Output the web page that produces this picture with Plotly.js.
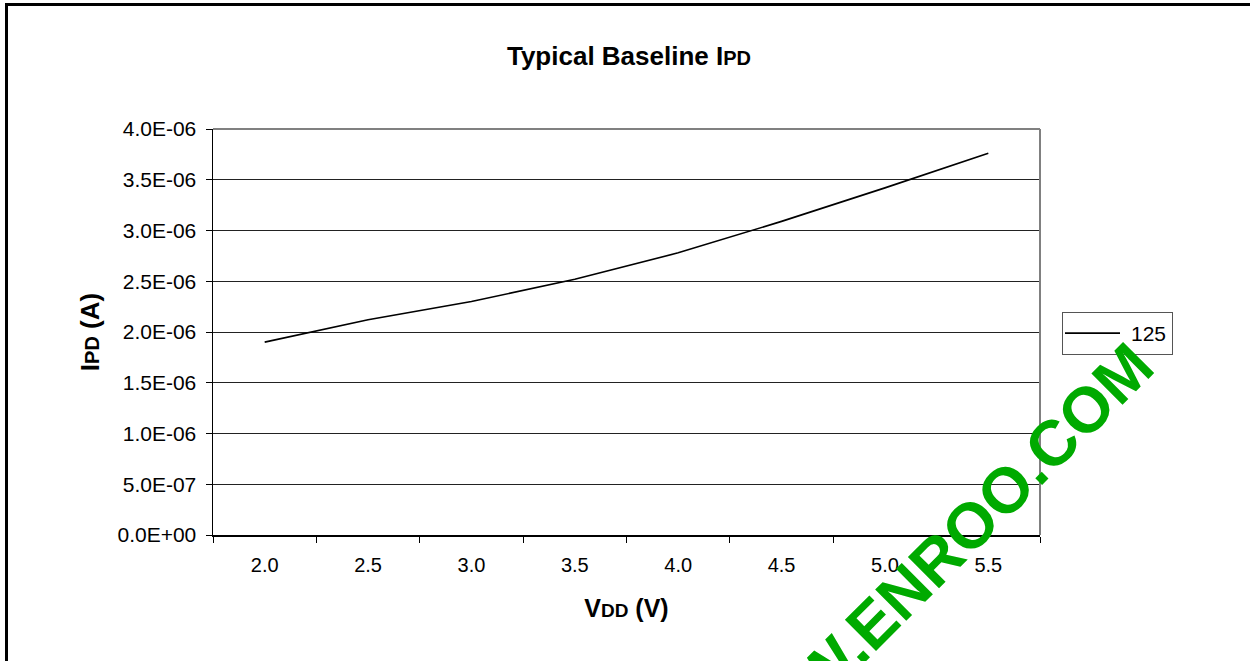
<!DOCTYPE html>
<html>
<head>
<meta charset="utf-8">
<script src="https://cdn.plot.ly/plotly-3.0.1.min.js"></script>
<style>
html,body{margin:0;padding:0;background:#fff;}
#chart{width:1250px;height:661px;}
</style>
</head>
<body>
<div id="chart"></div>
<script>
// Data
const vddLabels = ["2.0","2.5","3.0","3.5","4.0","4.5","5.0","5.5"];
const ipd125 = [1.90e-6, 2.12e-6, 2.30e-6, 2.52e-6, 2.78e-6, 3.09e-6, 3.42e-6, 3.76e-6];
const yTickVals = [0, 0.5e-6, 1.0e-6, 1.5e-6, 2.0e-6, 2.5e-6, 3.0e-6, 3.5e-6, 4.0e-6];
const yTickText = ["0.0E+00","5.0E-07","1.0E-06","1.5E-06","2.0E-06","2.5E-06","3.0E-06","3.5E-06","4.0E-06"];
const seriesName = "125";
const watermark = "WWW.ENROO.COM";

const W = 1250, H = 661;
const L = 213, R = 1040, T = 129, B = 535;
const px = x => (x - L) / (R - L);
const py = y => (B - y) / (B - T);
const FONT = "Liberation Sans, Arial, sans-serif";

const trace = {
  x: vddLabels, y: ipd125, type: "scatter", mode: "lines",
  name: seriesName, line: {color: "#000", width: 1.6}
};

const layout = {
  width: W, height: H,
  margin: {l: L, r: W - R, t: T, b: H - B, pad: 0},
  paper_bgcolor: "#fff", plot_bgcolor: "#fff",
  font: {family: FONT, color: "#000", size: 20},
  title: {
    text: "<b>Typical Baseline I<span style='font-size:20px'>PD</span></b>",
    font: {family: FONT, size: 26, color: "#000"},
    x: px(629), xanchor: "center", xref: "paper",
    y: 1 - 56 / H, yanchor: "middle"
  },
  xaxis: {
    type: "category", range: [-0.5, 7.5],
    tickson: "boundaries", ticks: "outside", ticklen: 6, tickcolor: "#000", tickwidth: 1,
    showline: true, linecolor: "#000", linewidth: 1.5, mirror: false,
    showgrid: false, zeroline: false,
    tickfont: {family: FONT, size: 20, color: "#000"},
    ticklabelstandoff: 11,
    title: {text: "<b>V<span style='font-size:19px'>DD</span> (V)</b>", font: {family: FONT, size: 25, color: "#000"}, standoff: 25}
  },
  yaxis: {
    range: [0, 4e-6], tickvals: yTickVals, ticktext: yTickText,
    ticks: "outside", ticklen: 6, tickcolor: "#000", tickwidth: 1,
    showline: true, linecolor: "#000", linewidth: 1.5,
    showgrid: true, gridcolor: "#222", gridwidth: 1, zeroline: false,
    tickfont: {family: FONT, size: 21, color: "#000"},
    ticklabelstandoff: 5,
    title: {text: "<b>I<span style='font-size:20px'>PD</span> (A)</b>", font: {family: FONT, size: 26, color: "#000"}, standoff: 10}
  },
  legend: {
    x: px(1062), y: py(312), xanchor: "left", yanchor: "top",
    bordercolor: "#555", borderwidth: 1, bgcolor: "#fff",
    font: {family: FONT, size: 21, color: "#000"},
    itemwidth: 58, tracegroupgap: 0
  },
  showlegend: true,
  shapes: [
    {type: "line", xref: "paper", yref: "paper", x0: 0, x1: 1, y0: 1, y1: 1, line: {color: "#808080", width: 2}},
    {type: "line", xref: "paper", yref: "paper", x0: 1, x1: 1, y0: 0, y1: 1, line: {color: "#808080", width: 2}},
    {type: "line", xref: "paper", yref: "paper", x0: px(5), x1: px(1260), y0: py(4.5), y1: py(4.5), line: {color: "#000", width: 3}},
    {type: "line", xref: "paper", yref: "paper", x0: px(6.5), x1: px(6.5), y0: py(3), y1: py(670), line: {color: "#000", width: 3}}
  ],
  annotations: [
    {
      text: "<b>" + watermark + "</b>", xref: "paper", yref: "paper",
      x: px(930), y: py(566), xanchor: "center", yanchor: "middle",
      textangle: -45, showarrow: false,
      font: {family: FONT, size: 64, color: "#00AA00"}
    }
  ]
};

Plotly.newPlot("chart", [trace], layout, {displayModeBar: false, staticPlot: true}).then(gd => {
  // lengthen the legend line sample, Excel style
  gd.querySelectorAll(".legend .legendlines path").forEach(p => p.setAttribute("d", "M2,0h55"));
});
</script>
</body>
</html>
